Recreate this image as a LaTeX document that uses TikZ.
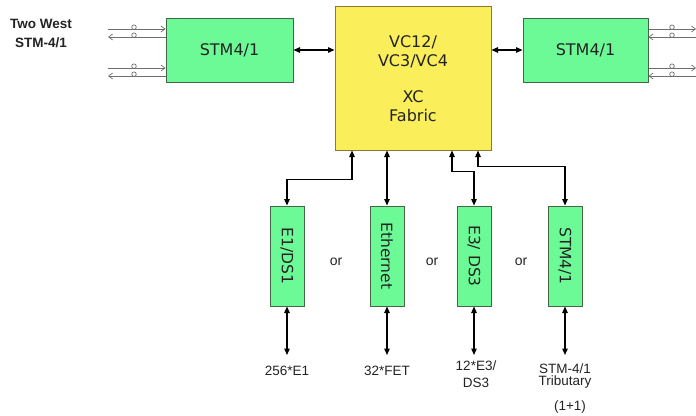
\documentclass[tikz,border=0pt]{standalone}
\usepackage{fontspec}
\setmainfont{Liberation Sans}
\newfontfamily\boxfont{DejaVu Sans}
\usetikzlibrary{arrows.meta}
\definecolor{gfill}{RGB}{108,250,150}
\definecolor{gline}{RGB}{70,100,70}
\definecolor{yfill}{RGB}{250,238,90}
\definecolor{yline}{RGB}{140,120,50}
\definecolor{fib}{RGB}{110,110,110}
\definecolor{tx}{RGB}{35,35,35}
\begin{document}
\begin{tikzpicture}[x=1pt,y=-1pt,
  gbox/.style={draw=gline, line width=1pt, fill=gfill, text=tx, font=\boxfont\fontsize{16}{18}\selectfont, inner sep=0pt},
  vbox/.style={gbox, minimum width=34pt, minimum height=100pt, font=\boxfont\fontsize{15.5}{17}\selectfont},
  ybox/.style={draw=yline, line width=1pt, fill=yfill, inner sep=0pt},
  ytext/.style={inner sep=0pt, align=center, text=tx, font=\boxfont\fontsize{16}{19}\selectfont},
  dbl/.style={line width=1.3pt, {Triangle[length=6.5pt,width=5.5pt]}-{Triangle[length=6.5pt,width=5.5pt]}},
  fibr/.style={draw=fib, line width=0.7pt, -{Straight Barb[length=4pt,width=6pt]}},
  fring/.style={draw=fib, line width=0.7pt},
  lbl/.style={font=\fontsize{13.5}{14}\selectfont, text=tx, align=center, inner sep=0pt},
  orl/.style={font=\fontsize{14}{15}\selectfont, text=tx, inner sep=0pt}]
\useasboundingbox (0,0) rectangle (696,415);

% main boxes
\node[gbox, minimum width=127pt, minimum height=64pt] (L) at (229.5,50) {STM4/1};
\node[ybox, minimum width=156pt, minimum height=144pt] (C) at (413,78) {};
\node[ytext] (Ct1) at (413,52) {VC12/\\VC3/VC4};
\node[ytext] (Ct2) at (413,106) {XC\\Fabric};
\node[gbox, minimum width=125pt, minimum height=64pt] (R) at (585.5,50) {STM4/1};

% title
\node[font=\bfseries\fontsize{13.5}{19}\selectfont, text=tx, align=center, inner sep=0pt] (T) at (41,33) {Two West\\STM-4/1};

% bottom boxes
\node[vbox] (E1) at (287,256) {\rotatebox{-90}{E1/DS1}};
\node[vbox] (EN) at (387,256) {\rotatebox{-90}{Ethernet}};
\node[vbox] (E3) at (474,256) {\rotatebox{-90}{E3/ DS3}};
\node[vbox] (ST) at (565,256) {\rotatebox{-90}{STM4/1}};

\node[orl] (o1) at (336,262) {or};
\node[orl] (o2) at (432,262) {or};
\node[orl] (o3) at (521,262) {or};

% horizontal links
\draw[dbl] (L.east) -- (L.east -| C.west);
\draw[dbl] (R.west) -- (R.west -| C.east);

% links to fabric
\coordinate (c1) at ([xshift=-61pt]C.south);
\coordinate (c3) at ([xshift=39pt]C.south);
\coordinate (c4) at ([xshift=65pt]C.south);
\draw[dbl] (E1.north) -- ++(0,-26) -| (c1);
\draw[dbl] (EN.north) -- (EN.north |- C.south);
\draw[dbl] (E3.north) -- ++(0,-34) -| (c3);
\draw[dbl] (ST.north) -- ++(0,-39) -| (c4);

% bottom labels and links
\node[lbl] (l1) at (287,371) {256*E1};
\node[lbl] (l2) at (387,371) {32*FET};
\node[lbl, font=\fontsize{13.5}{17}\selectfont] (l3) at (476,374) {12*E3/\\DS3};
\node[lbl, font=\fontsize{13.5}{12}\selectfont] (l4) at (565,376) {STM-4/1\\Tributary};
\node[lbl] (l5) at (570,407) {(1+1)};
\coordinate (b1) at (287,355);
\coordinate (b2) at (387,355);
\coordinate (b3) at (474,355);
\coordinate (b4) at (565,355);
\draw[dbl] (E1.south) -- (b1);
\draw[dbl] (EN.south) -- (b2);
\draw[dbl] (E3.south) -- (b3);
\draw[dbl] (ST.south) -- (b4);

% fibre pairs, west
\coordinate (wa) at (108,29);
\coordinate (wb) at (108,37);
\coordinate (wc) at (108,68);
\coordinate (wd) at (108,76);
\draw[fibr] (wa) -- (wa -| L.west);
\draw[fibr] (wb -| L.west) -- (wb);
\draw[fibr] (wc) -- (wc -| L.west);
\draw[fibr] (wd -| L.west) -- (wd);
\foreach \yy in {27.2,35.2,66.2,74.2} \draw[fring] (134,\yy) circle[radius=2.3pt];

% fibre pairs, east
\coordinate (ea) at (696,29);
\coordinate (eb) at (696,37);
\coordinate (ec) at (696,68);
\coordinate (ed) at (696,76);
\draw[fibr] (ea -| R.east) -- (ea);
\draw[fibr] (eb) -- (eb -| R.east);
\draw[fibr] (ec -| R.east) -- (ec);
\draw[fibr] (ed) -- (ed -| R.east);
\foreach \yy in {27.2,35.2,66.2,74.2} \draw[fring] (672,\yy) circle[radius=2.3pt];
\end{tikzpicture}
\end{document}
